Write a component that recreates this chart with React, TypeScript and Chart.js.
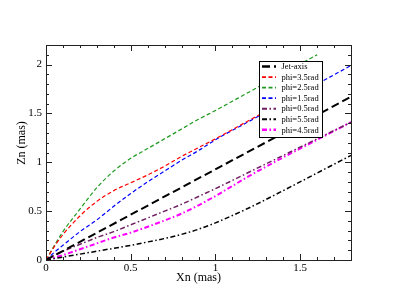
import React, { useEffect, useRef } from "react";
import { Chart, registerables } from "chart.js";

Chart.register(...registerables);

// ---------- data ----------
const X_GRID = [0, 0.05, 0.1, 0.2, 0.3, 0.4, 0.5, 0.6, 0.7, 0.8, 0.9, 1.0, 1.2, 1.4, 1.6, 1.8];
const JET_X = [0, 1.8];
const JET_Y = [0, 1.67];
const PHI35_Y = [0, 0.14, 0.26, 0.45, 0.6, 0.71, 0.79, 0.87, 0.96, 1.06, 1.15, 1.24, 1.43, 1.62, null, null];
const PHI25_Y = [0, 0.15, 0.29, 0.52, 0.74, 0.91, 1.04, 1.14, 1.24, 1.34, 1.44, 1.53, 1.72, 1.91, 2.1, null];
const PHI15_Y = [0, 0.08, 0.15, 0.29, 0.41, 0.55, 0.68, 0.8, 0.91, 1.02, 1.12, 1.23, 1.42, 1.61, 1.8, 1.99];
const PHI05_Y = [0, 0.05, 0.09, 0.16, 0.23, 0.29, 0.36, 0.43, 0.5, 0.57, 0.65, 0.73, 0.9, 1.07, 1.24, 1.41];
const PHI55_Y = [0, 0.015, 0.03, 0.06, 0.09, 0.12, 0.15, 0.185, 0.22, 0.262, 0.315, 0.38, 0.535, 0.71, 0.89, 1.07];
const PHI45_Y = [0, 0.025, 0.05, 0.11, 0.17, 0.23, 0.28, 0.34, 0.405, 0.475, 0.56, 0.655, 0.86, 1.05, 1.23, 1.41];

const LABELS = ["Jet-axis", "phi=3.5rad", "phi=2.5rad", "phi=1.5rad", "phi=0.5rad", "phi=5.5rad", "phi=4.5rad"];
const X_TICKS = [0, 0.5, 1, 1.5];
const Y_TICKS = [0, 0.5, 1, 1.5, 2];
const X_MAX = 1.8;
const Y_MAX = 2.2;
const X_TITLE = "Xn (mas)";
const Y_TITLE = "Zn (mas)";

const SERIF = "'Liberation Serif', 'DejaVu Serif', serif";

function pts(xs: number[], ys: (number | null)[]) {
  const out: { x: number; y: number }[] = [];
  xs.forEach((x, i) => {
    const y = ys[i];
    if (y !== null && y !== undefined) out.push({ x, y });
  });
  return out;
}

const framePlugin = {
  id: "frameTicks",
  afterDatasetsDraw(chart: any) {
    const { ctx, chartArea: a, scales } = chart;
    const xs = scales.x;
    const ys = scales.y;
    ctx.save();
    ctx.strokeStyle = "#222";
    ctx.lineWidth = 1;
    // frame
    ctx.strokeRect(Math.round(a.left) + 0.5, Math.round(a.top) + 0.5, Math.round(a.right - a.left), Math.round(a.bottom - a.top));
    // ticks
    ctx.beginPath();
    for (let i = 0; i <= Math.round(X_MAX * 10); i++) {
      const v = i / 10;
      const major = i % 5 === 0;
      const len = major ? 6 : 3;
      const px = Math.round(xs.getPixelForValue(v)) + 0.5;
      ctx.moveTo(px, a.bottom);
      ctx.lineTo(px, a.bottom - len);
      ctx.moveTo(px, a.top);
      ctx.lineTo(px, a.top + len);
    }
    for (let i = 0; i <= Math.round(Y_MAX * 10); i++) {
      const v = i / 10;
      const major = i % 5 === 0;
      const len = major ? 6 : 3;
      const py = Math.round(ys.getPixelForValue(v)) + 0.5;
      ctx.moveTo(a.left, py);
      ctx.lineTo(a.left + len, py);
      ctx.moveTo(a.right, py);
      ctx.lineTo(a.right - len, py);
    }
    ctx.stroke();

    // axis titles
    ctx.fillStyle = "#000";
    ctx.font = `12px ${SERIF}`;
    ctx.textAlign = "center";
    ctx.textBaseline = "middle";
    ctx.fillText(X_TITLE, (a.left + a.right) / 2, 278);
    ctx.save();
    ctx.translate(22, 143);
    ctx.rotate(-Math.PI / 2);
    ctx.fillText(Y_TITLE, 0, 0);
    ctx.restore();

    // legend box
    const bx = 259, by = 61, bw = 63, bh = 76;
    ctx.fillStyle = "#fff";
    ctx.fillRect(bx, by, bw, bh);
    ctx.strokeStyle = "#000";
    ctx.strokeRect(bx + 0.5, by + 0.5, bw, bh);
    ctx.font = `8.5px ${SERIF}`;
    ctx.textAlign = "left";
    chart.data.datasets.forEach((ds: any, i: number) => {
      const y = 66.5 + i * 10.55;
      ctx.save();
      ctx.strokeStyle = ds.borderColor;
      ctx.lineWidth = ds.borderWidth + 0.5;
      ctx.setLineDash(ds.borderDash || []);
      ctx.beginPath();
      ctx.moveTo(262, y);
      ctx.lineTo(276, y);
      ctx.stroke();
      ctx.restore();
      ctx.fillStyle = "#000";
      ctx.fillText(ds.label, 281.5, y + 0.5);
    });
    ctx.restore();
  },
};

export default function App() {
  const ref = useRef<HTMLCanvasElement>(null);
  useEffect(() => {
    document.body.style.margin = "0";
    const canvas = ref.current!;
    const mk = (label: string, data: any, color: string, width: number, dash: number[]) => ({
      label,
      data,
      borderColor: color,
      backgroundColor: color,
      borderWidth: width,
      borderDash: dash,
      pointRadius: 0,
      fill: false,
      cubicInterpolationMode: "monotone" as const,
      spanGaps: false,
    });
    const dashDot = [5, 2.5, 1.5, 2.5];
    const chart = new Chart(canvas, {
      type: "line",
      data: {
        datasets: [
          mk(LABELS[0], pts(JET_X, JET_Y), "#000000", 2, [8, 4]),
          mk(LABELS[1], pts(X_GRID, PHI35_Y), "#ff0000", 1.2, [4, 2.5]),
          mk(LABELS[2], pts(X_GRID, PHI25_Y), "#1f9a1f", 1.2, [4, 2.5]),
          mk(LABELS[3], pts(X_GRID, PHI15_Y), "#0000ff", 1.2, [4, 2.5]),
          mk(LABELS[4], pts(X_GRID, PHI05_Y), "#6e1f62", 1.5, dashDot),
          mk(LABELS[5], pts(X_GRID, PHI55_Y), "#000000", 1.5, dashDot),
          mk(LABELS[6], pts(X_GRID, PHI45_Y), "#ff00ff", 2, dashDot),
        ],
      },
      options: {
        responsive: false,
        animation: false,
        events: [],
        layout: { padding: { left: 0, right: 44, top: 45, bottom: 0 } },
        plugins: { legend: { display: false }, tooltip: { enabled: false } },
        scales: {
          x: {
            type: "linear",
            min: 0,
            max: X_MAX,
            grid: { display: false, drawTicks: false },
            border: { display: false },
            ticks: {
              font: { family: SERIF, size: 11 },
              color: "#000",
              padding: 2,
              maxRotation: 0,
              callback: (v: any) => String(v),
            },
            afterBuildTicks: (s: any) => {
              s.ticks = X_TICKS.map((v) => ({ value: v }));
            },
            afterFit: (s: any) => {
              s.height = 45;
            },
          },
          y: {
            type: "linear",
            min: 0,
            max: Y_MAX,
            grid: { display: false, drawTicks: false },
            border: { display: false },
            ticks: {
              font: { family: SERIF, size: 11 },
              color: "#000",
              padding: 4,
              callback: (v: any) => String(v),
            },
            afterBuildTicks: (s: any) => {
              s.ticks = Y_TICKS.map((v) => ({ value: v }));
            },
            afterFit: (s: any) => {
              s.width = 46;
            },
          },
        },
      },
      plugins: [framePlugin],
    });
    return () => chart.destroy();
  }, []);
  return (
    <div style={{ width: 395, height: 305 }}>
      <canvas ref={ref} width={395} height={305} style={{ display: "block" }} />
    </div>
  );
}
